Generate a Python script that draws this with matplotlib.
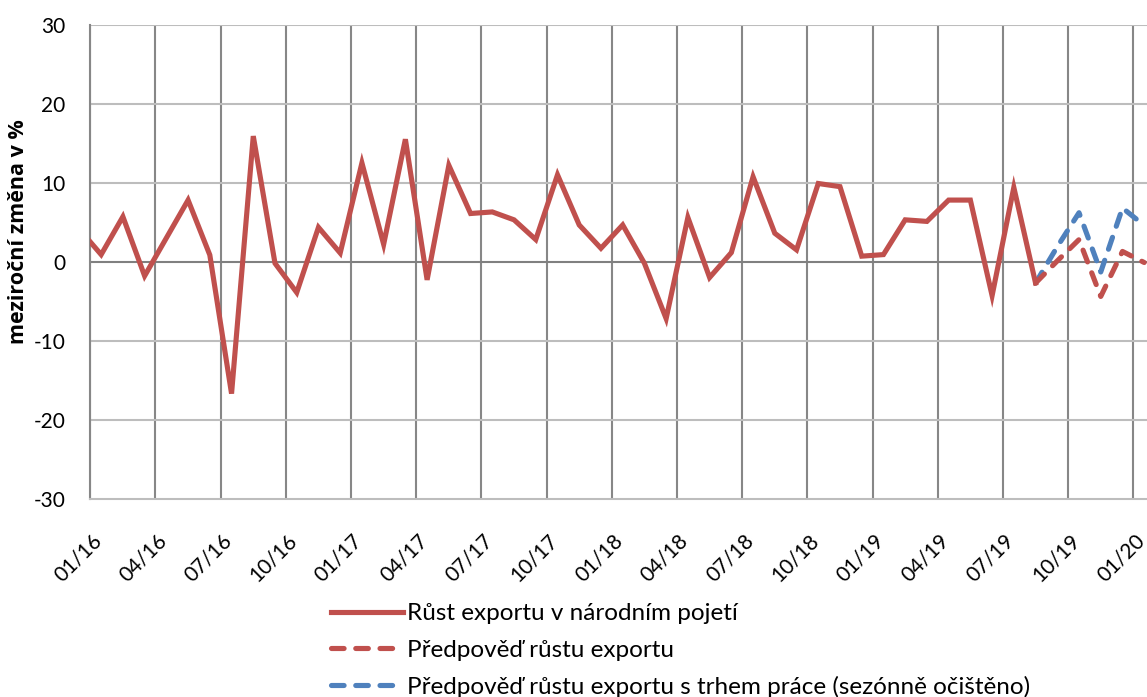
import numpy as np
import pandas as pd
import matplotlib

matplotlib.use("Agg")
import matplotlib.pyplot as plt
import matplotlib.transforms as mtransforms

plt.rcParams["font.family"] = ["Lato", "DejaVu Sans"]
plt.rcParams["axes.unicode_minus"] = False

# Actual year-on-year export growth, Dec 2015 - Aug 2019 (%)
actual_start, actual_end = "2015-12", "2019-08"
actual_values = [
    4.1, 0.9, 5.7, -1.8, 3.0, 7.8, 0.85, -16.7, 15.9, -0.2, -3.9, 4.35,
    1.1, 12.5, 2.2, 15.5, -2.3, 12.2, 6.1, 6.3, 5.3, 2.8, 11.0, 4.65,
    1.7, 4.65, -0.2, -7.2, 5.6, -2.0, 1.15, 10.75, 3.6, 1.5, 9.9, 9.5,
    0.7, 0.9, 5.3, 5.1, 7.8, 7.8, -4.3, 9.4, -2.7,
]

# Forecasts, Aug 2019 - Jan 2020 (%)
fc_start, fc_end = "2019-08", "2020-01"
forecast_values = [-2.7, 0.1, 2.8, -4.4, 1.3, -0.1]
forecast_labour_values = [-2.7, 1.9, 6.2, -1.3, 6.8, 4.6]

tick_months = pd.period_range("2016-01", "2020-01", freq="3M")
tick_labels = [p.strftime("%m/%y") for p in tick_months]

series_labels = [
    "Růst exportu v národním pojetí",
    "Předpověď růstu exportu",
    "Předpověď růstu exportu s trhem práce (sezónně očištěno)",
]

RED = "#C0504D"
BLUE = "#4F81BD"


def month_pos(periods):
    """Month offset from Jan 2016, points sit mid-month."""
    return np.array([(p.year - 2016) * 12 + (p.month - 1) + 0.5 for p in periods])


x_act = month_pos(pd.period_range(actual_start, actual_end, freq="M"))
x_fc = month_pos(pd.period_range(fc_start, fc_end, freq="M"))
x_ticks = month_pos(tick_months) - 0.5

fig = plt.figure(figsize=(11.47, 6.97), dpi=100)
W, H = 1147, 697
left, top, bottom = 90.3, 24.7, 498.7
px_per_month = 21.73
ax = fig.add_axes([left / W, 1 - bottom / H, (W - left) / W, (bottom - top) / H])

lw = 3.7
dash = dict(linestyle=(0, (2.45, 2.27)), dash_capstyle="round", solid_capstyle="round")
ax.plot(x_fc, forecast_labour_values, color=BLUE, lw=lw, label=series_labels[2], zorder=3, **dash)
ax.plot(x_fc, forecast_values, color=RED, lw=lw, label=series_labels[1], zorder=4, **dash)
ax.plot(x_act, actual_values, color=RED, lw=lw, label=series_labels[0], zorder=5,
        solid_joinstyle="miter")

ax.set_xlim(0, (W - left) / px_per_month)
ax.set_ylim(-30, 30)
ax.set_yticks(np.arange(-30, 31, 10))
ax.set_xticks(x_ticks)
ax.set_xticklabels(tick_labels, rotation=45, ha="right", va="center", rotation_mode="anchor")

# grid
for v in x_ticks:
    ax.axvline(v, color="#878787", lw=1.5, zorder=1)
for v in np.arange(-20, 31, 10):
    ax.axhline(v, color="#808080" if v == 0 else "#BDBDBD", lw=1.5, zorder=1)

for s in ["top", "right"]:
    ax.spines[s].set_visible(False)
ax.spines["left"].set_color("#878787")
ax.spines["left"].set_linewidth(1.5)
ax.spines["bottom"].set_color("#BDBDBD")
ax.spines["bottom"].set_linewidth(1.5)

ax.tick_params(axis="both", length=0, labelsize=15, colors="black")
ax.tick_params(axis="y", pad=18)
ax.tick_params(axis="x", pad=0)

# shift rotated month labels like the Excel layout
offset = mtransforms.ScaledTranslation(8 / 100, -39 / 100, fig.dpi_scale_trans)
for lbl in ax.get_xticklabels():
    lbl.set_transform(lbl.get_transform() + offset)

ax.set_ylabel("meziroční změna v %", fontsize=15.5, fontweight="bold",
              family=["Open Sans", "DejaVu Sans"])
ax.yaxis.set_label_coords(-0.058, 0.563)

handles, labels = ax.get_legend_handles_labels()
order = [labels.index(lbl) for lbl in series_labels]
fig.legend(
    [handles[i] for i in order],
    [labels[i] for i in order],
    loc="upper left",
    bbox_to_anchor=(0.2695, 0.166),
    frameon=False,
    fontsize=17.5,
    handlelength=2.96,
    handletextpad=0.15,
    labelspacing=0.63,
)

fig.savefig("out.png", dpi=100)
